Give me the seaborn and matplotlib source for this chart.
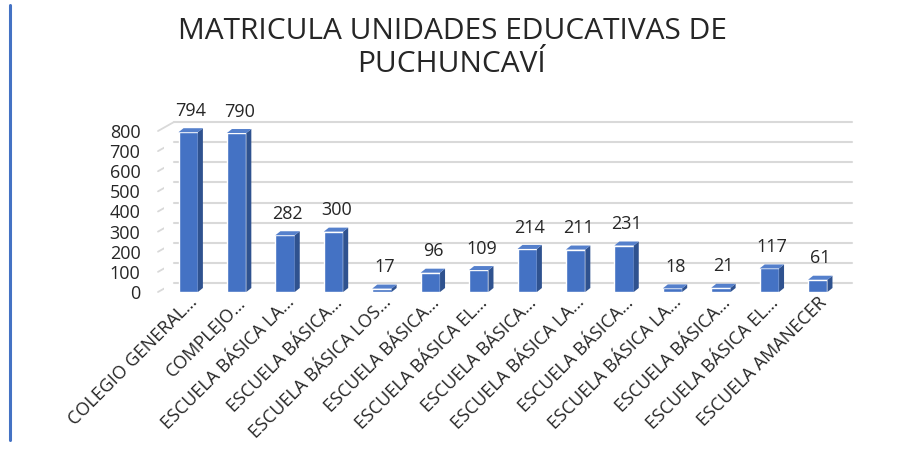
import matplotlib
matplotlib.use('Agg')
import matplotlib.pyplot as plt
import matplotlib.transforms as mtransforms
from matplotlib.patches import Polygon
import seaborn as sns
import pandas as pd

# Datos
escuelas = ['COLEGIO GENERAL…', 'COMPLEJO…', 'ESCUELA BÁSICA LA…', 'ESCUELA BÁSICA…',
            'ESCUELA BÁSICA LOS…', 'ESCUELA BÁSICA…', 'ESCUELA BÁSICA EL…', 'ESCUELA BÁSICA…',
            'ESCUELA BÁSICA LA…', 'ESCUELA BÁSICA…', 'ESCUELA BÁSICA LA…', 'ESCUELA BÁSICA…',
            'ESCUELA BÁSICA EL…', 'ESCUELA AMANECER']
matricula = [794, 790, 282, 300, 17, 96, 109, 214, 211, 231, 18, 21, 117, 61]
ticks_y = [0, 100, 200, 300, 400, 500, 600, 700, 800]

data = pd.DataFrame({'id': [str(i) for i in range(len(escuelas))], 'matricula': matricula})

sns.set_style('white')
plt.rcParams['font.family'] = ['Open Sans', 'DejaVu Sans']

fig = plt.figure(figsize=(9.04, 4.51), dpi=100)
ax = fig.add_axes([164 / 904, 1 - 292 / 451, 678 / 904, 161 / 451])

frente = '#4472C4'
lado = '#2F528F'
tapa = '#5580CC'
gris = '#d9d9d9'
texto = '#262626'

sns.barplot(data=data, x='id', y='matricula', color=frente, width=0.4,
            saturation=1, ax=ax, zorder=3)
ax.set_ylim(0, 800)
ax.set_xlim(-0.5, len(escuelas) - 0.5)

# factores pixel -> datos para el efecto 3D
fig.canvas.draw()
bbox = ax.get_window_extent()
px_x = len(escuelas) / bbox.width
px_y = 800 / bbox.height
dx, dy = 5 * px_x, 4 * px_y

for p in ax.patches:
    x0, w, h = p.get_x(), p.get_width(), p.get_height()
    x1 = x0 + w
    ax.add_patch(Polygon([(x1, 0), (x1 + dx, dy), (x1 + dx, h + dy), (x1, h)],
                         closed=True, color=lado, zorder=3, clip_on=False, lw=0))
    ax.add_patch(Polygon([(x0, h), (x0 + dx, h + dy), (x1 + dx, h + dy), (x1, h)],
                         closed=True, color=tapa, zorder=3, clip_on=False, lw=0))
    ax.annotate(f'{int(h)}', xy=(x0 + w / 2, h + dy), xytext=(2, 6),
                textcoords='offset points', ha='center', va='bottom',
                fontsize=13, color=texto, zorder=4, annotation_clip=False)

# rejilla en la pared del fondo (desplazada hacia arriba y a la derecha)
pared = mtransforms.blended_transform_factory(ax.transAxes, ax.transData) \
    + mtransforms.ScaledTranslation(10 / 100, 9 / 100, fig.dpi_scale_trans)
for t in ticks_y:
    ax.plot([0, 1], [t, t], color=gris, lw=1.5, zorder=1, transform=pared, clip_on=False)

# diagonales del lado izquierdo
for t in ticks_y:
    y_disp = ax.transData.transform((0, t))[1]
    fig.add_artist(plt.Line2D([(bbox.x0 - 6) / fig.bbox.width, (bbox.x0 + 10) / fig.bbox.width],
                              [y_disp / fig.bbox.height, (y_disp + 9) / fig.bbox.height],
                              color=gris, lw=1.3, zorder=0))

sns.despine(ax=ax, left=True, bottom=True)
ax.set_yticks(ticks_y)
ax.set_yticklabels([str(t) for t in ticks_y], fontsize=13, color=texto)
ax.set_xticks(range(len(escuelas)))
ax.set_xticklabels(escuelas, rotation=45, ha='right', rotation_mode='anchor',
                   fontsize=13, color=texto)
ax.tick_params(axis='both', length=0)
ax.tick_params(axis='y', pad=17)
ax.tick_params(axis='x', pad=1)
ax.set_xlabel('')
ax.set_ylabel('')
ax.grid(False)

fig.text(0.5, 1 - 48 / 451, 'MATRICULA UNIDADES EDUCATIVAS DE\nPUCHUNCAVÍ', ha='center',
         va='center', fontsize=21.5, color=texto, linespacing=1.2)

# linea azul a la izquierda
fig.add_artist(plt.Line2D([10 / 904, 10 / 904], [1 - 5 / 451, 1 - 440 / 451],
                          color=frente, lw=2.2))

fig.savefig('out.png', dpi=100)
